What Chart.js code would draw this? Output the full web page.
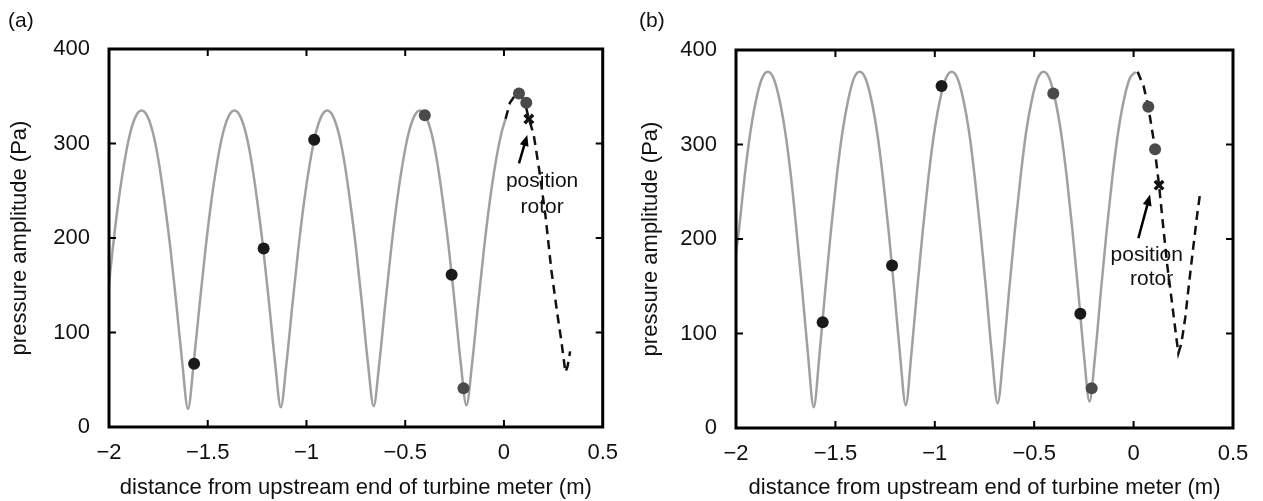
<!DOCTYPE html>
<html>
<head>
<meta charset="utf-8">
<script src="https://cdn.jsdelivr.net/npm/chart.js@4.4.0/dist/chart.umd.min.js"></script>
<style>
  html, body { margin: 0; padding: 0; background: #fff; }
  .panel { position: absolute; top: 0; height: 501px; }
  #wrapA { left: 0; width: 631px; }
  #wrapB { left: 631px; width: 632px; }
</style>
</head>
<body>
<div class="panel" id="wrapA"><canvas id="chartA"></canvas></div>
<div class="panel" id="wrapB"><canvas id="chartB"></canvas></div>
<script>
// axes
const xTicks = [-2, -1.5, -1, -0.5, 0, 0.5];
const yTicks = [0, 100, 200, 300, 400];
const xTitle = 'distance from upstream end of turbine meter (m)';
const yTitle = 'pressure amplitude (Pa)';

// panel (a): model curve (grey), continuation past rotor (dashed), measurements
const aCurveX = [-2.000, -1.982, -1.953, -1.923, -1.894, -1.864, -1.835, -1.806, -1.776, -1.747, -1.718, -1.688, -1.659, -1.629, -1.600, -1.571, -1.541, -1.512, -1.483, -1.453, -1.424, -1.394, -1.365, -1.336, -1.306, -1.277, -1.248, -1.218, -1.189, -1.159, -1.130, -1.101, -1.071, -1.042, -1.013, -0.983, -0.954, -0.924, -0.895, -0.866, -0.836, -0.807, -0.778, -0.748, -0.719, -0.689, -0.660, -0.631, -0.601, -0.572, -0.543, -0.513, -0.484, -0.454, -0.425, -0.396, -0.366, -0.337, -0.308, -0.278, -0.249, -0.219, -0.190, -0.161, -0.131, -0.102, -0.073, -0.043, -0.014, 0.008];
const aCurveY = [151, 187, 237, 279, 310, 329, 335, 329, 310, 279, 237, 187, 130, 68, 19, 68, 130, 187, 237, 279, 310, 329, 335, 329, 310, 279, 237, 187, 130, 68, 21, 68, 130, 187, 237, 279, 310, 329, 335, 329, 310, 279, 237, 187, 130, 68, 22, 68, 130, 187, 237, 279, 310, 329, 335, 329, 310, 279, 237, 187, 130, 68, 23, 68, 130, 187, 237, 279, 310, 326];
const aDashX = [0.008, 0.03, 0.06, 0.09, 0.11, 0.126, 0.15, 0.18, 0.21, 0.24, 0.27, 0.29, 0.311, 0.322, 0.335];
const aDashY = [326, 343, 352, 350, 340, 326, 310, 270, 224, 166, 120, 92, 58, 64, 80];
const aDarkX = [-1.569, -1.217, -0.961, -0.265];
const aDarkY = [67, 189, 304, 161];
const aGreyX = [-0.401, -0.205, 0.076, 0.113];
const aGreyY = [330, 41, 353, 343];
const aRotorX = [0.126];
const aRotorY = [326];

// panel (b)
const bCurveX = [-2.000, -1.985, -1.956, -1.927, -1.898, -1.869, -1.840, -1.811, -1.782, -1.753, -1.724, -1.696, -1.667, -1.638, -1.609, -1.580, -1.551, -1.522, -1.493, -1.464, -1.435, -1.407, -1.378, -1.349, -1.320, -1.291, -1.262, -1.233, -1.204, -1.175, -1.146, -1.118, -1.089, -1.060, -1.031, -1.002, -0.973, -0.944, -0.915, -0.886, -0.857, -0.828, -0.800, -0.771, -0.742, -0.713, -0.684, -0.655, -0.626, -0.597, -0.568, -0.540, -0.511, -0.482, -0.453, -0.424, -0.395, -0.366, -0.337, -0.308, -0.279, -0.250, -0.222, -0.193, -0.164, -0.135, -0.106, -0.077, -0.048, -0.019, 0.010];
const bCurveY = [185, 210, 267, 314, 348, 370, 377, 370, 348, 314, 267, 210, 146, 78, 22, 78, 146, 210, 267, 314, 348, 370, 377, 370, 348, 314, 267, 210, 146, 78, 24, 78, 146, 210, 267, 314, 348, 370, 377, 370, 348, 314, 267, 210, 146, 78, 26, 78, 146, 210, 267, 314, 348, 370, 377, 370, 348, 314, 267, 210, 146, 78, 28, 78, 146, 210, 267, 314, 348, 370, 377];
const bDashX = [0.02, 0.05, 0.074, 0.10, 0.128, 0.15, 0.17, 0.19, 0.21, 0.225, 0.24, 0.26, 0.28, 0.30, 0.32, 0.335];
const bDashY = [377, 362, 340, 306, 257, 211, 171, 138, 104, 79, 89, 117, 155, 191, 226, 249];
const bDarkX = [-1.564, -1.215, -0.966, -0.268];
const bDarkY = [112, 172, 362, 121];
const bGreyX = [-0.404, -0.211, 0.074, 0.108];
const bGreyY = [354, 42, 340, 295];
const bRotorX = [0.128];
const bRotorY = [257];

const FONT = '"Liberation Sans", Arial, Helvetica, sans-serif';
Chart.defaults.font.family = FONT;
Chart.defaults.color = '#111';

function pts(xs, ys) {
    return xs.map((x, i) => ({ x: x, y: ys[i] }));
}

function fmt(v) {
    return v < 0 ? '\u2212' + Math.abs(v) : String(v);
}

// frame, inward ticks, panel letter and the "position rotor" note
const framePlugin = {
    id: 'frame',
    afterDatasetsDraw(chart, args, opts) {
        const { ctx, chartArea: a, scales: { x, y } } = chart;
        ctx.save();
        ctx.strokeStyle = '#000';
        ctx.lineWidth = 2;
        ctx.beginPath();
        xTicks.slice(1, -1).forEach(v => {
            const px = x.getPixelForValue(v);
            ctx.moveTo(px, a.bottom); ctx.lineTo(px, a.bottom - 7);
            ctx.moveTo(px, a.top); ctx.lineTo(px, a.top + 7);
        });
        yTicks.slice(1, -1).forEach(v => {
            const py = y.getPixelForValue(v);
            ctx.moveTo(a.left, py); ctx.lineTo(a.left + 7, py);
            ctx.moveTo(a.right, py); ctx.lineTo(a.right - 7, py);
        });
        ctx.stroke();
        ctx.lineWidth = 3;
        ctx.strokeRect(a.left, a.top, a.right - a.left, a.bottom - a.top);

        // arrow
        const n = opts.note;
        const x0 = x.getPixelForValue(n.from[0]), y0 = y.getPixelForValue(n.from[1]);
        const x1 = x.getPixelForValue(n.to[0]), y1 = y.getPixelForValue(n.to[1]);
        const ang = Math.atan2(y1 - y0, x1 - x0);
        ctx.lineWidth = 2.5;
        ctx.beginPath();
        ctx.moveTo(x0, y0);
        ctx.lineTo(x1 - 8 * Math.cos(ang), y1 - 8 * Math.sin(ang));
        ctx.stroke();
        ctx.fillStyle = '#000';
        ctx.beginPath();
        ctx.moveTo(x1, y1);
        ctx.lineTo(x1 - 11 * Math.cos(ang) + 4.5 * Math.sin(ang), y1 - 11 * Math.sin(ang) - 4.5 * Math.cos(ang));
        ctx.lineTo(x1 - 11 * Math.cos(ang) - 4.5 * Math.sin(ang), y1 - 11 * Math.sin(ang) + 4.5 * Math.cos(ang));
        ctx.closePath();
        ctx.fill();

        ctx.font = '21px ' + FONT;
        ctx.fillStyle = '#111';
        ctx.textAlign = 'center';
        ctx.textBaseline = 'middle';
        n.lines.forEach(l => {
            ctx.fillText(l.text, x.getPixelForValue(l.at[0]), y.getPixelForValue(l.at[1]));
        });

        ctx.textAlign = 'left';
        ctx.fillText(opts.letter, 8, 21);
        ctx.restore();
    }
};

function makeChart(id, d) {
    new Chart(document.getElementById(id), {
        type: 'scatter',
        data: {
            datasets: [
                {
                    data: pts(d.rotorX, d.rotorY), pointStyle: 'crossRot', pointRadius: 6,
                    borderColor: '#111', borderWidth: 3.5, order: 1
                },
                {
                    data: pts(d.greyX, d.greyY), pointRadius: 6,
                    backgroundColor: '#4a4a4a', borderColor: '#4a4a4a', borderWidth: 0, order: 2
                },
                {
                    data: pts(d.darkX, d.darkY), pointRadius: 6,
                    backgroundColor: '#1a1a1a', borderColor: '#1a1a1a', borderWidth: 0, order: 3
                },
                {
                    data: pts(d.dashX, d.dashY), showLine: true, pointRadius: 0,
                    borderColor: '#111', borderWidth: 2.5, borderDash: [9, 6], order: 4
                },
                {
                    data: pts(d.curveX, d.curveY), showLine: true, pointRadius: 0,
                    borderColor: '#a0a0a0', borderWidth: 2.5, cubicInterpolationMode: 'monotone', order: 5
                }
            ]
        },
        options: {
            responsive: true,
            maintainAspectRatio: false,
            animation: false,
            events: [],
            layout: { padding: { top: d.padTop, right: d.padRight, left: 0, bottom: 0 } },
            plugins: {
                legend: { display: false },
                tooltip: { enabled: false },
                frame: { letter: d.letter, note: d.note }
            },
            scales: {
                x: {
                    type: 'linear', min: -2, max: 0.5,
                    afterBuildTicks: s => { s.ticks = xTicks.map(v => ({ value: v })); },
                    afterFit: s => { s.height = d.xHeight; },
                    grid: { display: false, drawTicks: false },
                    border: { display: false },
                    ticks: { callback: fmt, font: { size: 22 }, color: '#111', padding: 13, maxRotation: 0 },
                    title: { display: true, text: xTitle, font: { size: 22 }, color: '#111', padding: { top: 0, bottom: 0 } }
                },
                y: {
                    type: 'linear', min: 0, max: 400,
                    afterBuildTicks: s => { s.ticks = yTicks.map(v => ({ value: v })); },
                    afterFit: s => { s.width = d.yWidth; },
                    grid: { display: false, drawTicks: false },
                    border: { display: false },
                    ticks: { font: { size: 22 }, color: '#111', padding: 19 },
                    title: { display: true, text: yTitle, font: { size: 22 }, color: '#111', padding: { top: 7, bottom: 0 } }
                }
            }
        },
        plugins: [framePlugin]
    });
}

makeChart('chartA', {
    letter: '(a)',
    curveX: aCurveX, curveY: aCurveY, dashX: aDashX, dashY: aDashY,
    darkX: aDarkX, darkY: aDarkY, greyX: aGreyX, greyY: aGreyY,
    rotorX: aRotorX, rotorY: aRotorY,
    padTop: 49, padRight: 27, yWidth: 109, xHeight: 74,
    note: {
        from: [0.076, 279], to: [0.118, 309],
        lines: [{ text: 'position', at: [0.193, 260] }, { text: 'rotor', at: [0.193, 233] }]
    }
});

makeChart('chartB', {
    letter: '(b)',
    curveX: bCurveX, curveY: bCurveY, dashX: bDashX, dashY: bDashY,
    darkX: bDarkX, darkY: bDarkY, greyX: bGreyX, greyY: bGreyY,
    rotorX: bRotorX, rotorY: bRotorY,
    padTop: 50, padRight: 30, yWidth: 105, xHeight: 73,
    note: {
        from: [0.024, 201], to: [0.083, 247],
        lines: [{ text: 'position', at: [0.066, 183] }, { text: 'rotor', at: [0.091, 157] }]
    }
});
</script>
</body>
</html>
